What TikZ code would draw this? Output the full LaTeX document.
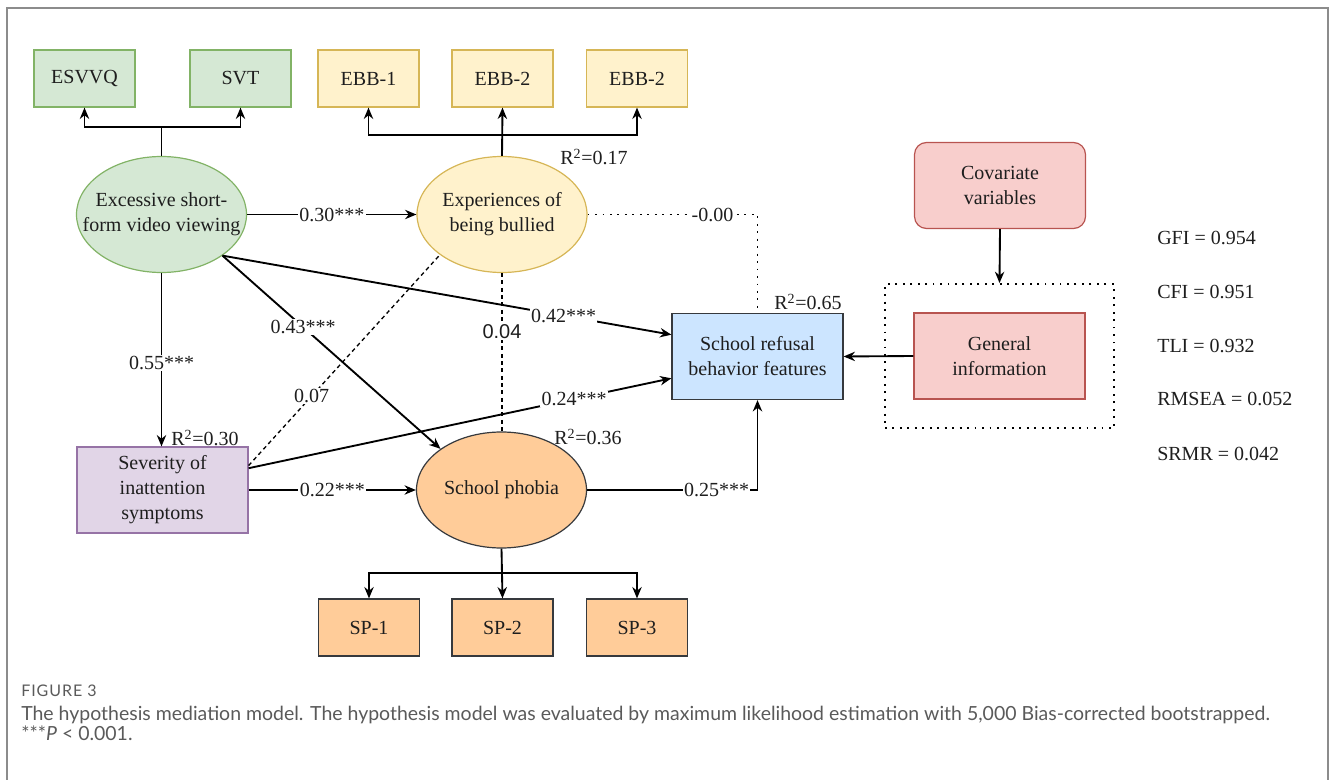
\documentclass[tikz,border=0pt]{standalone}
\usepackage{fontspec}
\setmainfont{Liberation Serif}
\newfontfamily\capfont{Lato}
\newfontfamily\capfontls[LetterSpace=6]{Lato}
\newfontfamily\arialfont{Liberation Sans}
\usetikzlibrary{arrows.meta,shapes.geometric,calc}
\definecolor{gfill}{HTML}{D5E8D4}\definecolor{gdraw}{HTML}{82B366}
\definecolor{yfill}{HTML}{FFF2CC}\definecolor{ydraw}{HTML}{D6B656}
\definecolor{ofill}{HTML}{FFCC99}\definecolor{odraw}{HTML}{36393D}
\definecolor{bfill}{HTML}{CCE5FF}\definecolor{bdraw}{HTML}{36393D}
\definecolor{pfill}{HTML}{E1D5E7}\definecolor{pdraw}{HTML}{9673A6}
\definecolor{rfill}{HTML}{F8CECC}\definecolor{rdraw}{HTML}{B85450}
\definecolor{textc}{HTML}{1E1E1E}
\definecolor{capc}{HTML}{5A5A5A}
\definecolor{framec}{HTML}{8C8C8C}
\begin{document}
\begin{tikzpicture}[x=0.75pt,y=-0.75pt,
  every node/.style={font=\fontsize{15}{18.75}\selectfont, text=textc},
  latent/.style={ellipse, minimum width=127.5pt, minimum height=87pt, inner xsep=-18pt, inner ysep=0pt, align=center, line width=0.9pt},
  smallbox/.style={rectangle, minimum width=75.75pt, minimum height=42.75pt, inner sep=0pt, line width=0.9pt},
  bigbox/.style={rectangle, minimum width=128.25pt, minimum height=64.5pt, inner sep=0pt, align=center, line width=0.9pt},
  arr/.style={-{Stealth[length=8.5pt,width=7pt]}, line width=1.4pt, draw=black},
  plain/.style={line width=1.4pt, draw=black},
  dotline/.style={line width=1.4pt, dash pattern=on 1.4pt off 4.2pt, draw=black},
  dashline/.style={line width=1pt, dash pattern=on 3pt off 2.5pt, draw=black},
  lbl/.style={fill=white, inner sep=1pt},
  captext/.style={font=\capfont\fontsize{14.6}{17}\selectfont, text=capc, anchor=base west, inner sep=0pt}
]
\useasboundingbox (0,0) rectangle (1331,780);
\draw[framec, line width=1.2pt] (7,780) -- (7,8) -- (1328,8) -- (1328,780);

% latent variables
\node[latent, fill=gfill, draw=gdraw] (exc) at (161.5,214.5) {Excessive short-\\form video viewing};
\node[latent, fill=yfill, draw=ydraw] (exp) at (502,214.5) {Experiences of\\being bullied};
\node[latent, fill=ofill, draw=odraw] (sph) at (501.5,490) {School phobia};

% indicators
\node[smallbox, fill=gfill, draw=gdraw] (esv) at (84.5,78.5) {ESVVQ};
\node[smallbox, fill=gfill, draw=gdraw] (svt) at (240.5,78.5) {SVT};
\node[smallbox, fill=yfill, draw=ydraw] (eb1) at (368.5,78.5) {EBB-1};
\node[smallbox, fill=yfill, draw=ydraw] (eb2) at (502.5,78.5) {EBB-2};
\node[smallbox, fill=yfill, draw=ydraw] (eb3) at (637,78.5) {EBB-2};
\node[smallbox, fill=ofill, draw=odraw] (sp1) at (369,627.5) {SP-1};
\node[smallbox, fill=ofill, draw=odraw] (sp2) at (502.5,627.5) {SP-2};
\node[smallbox, fill=ofill, draw=odraw] (sp3) at (637,627.5) {SP-3};

% observed boxes
\node[bigbox, fill=pfill, draw=pdraw] (sev) at (162.5,490) {Severity of\\inattention\\symptoms};
\node[bigbox, fill=bfill, draw=bdraw] (ref) at (757.5,356.5) {School refusal\\behavior features};
\node[bigbox, fill=rfill, draw=rdraw] (gen) at (999.5,356) {General\\information};
\node[bigbox, fill=rfill, draw=rdraw, rounded corners=9pt] (cov) at (1000,185.5) {Covariate\\variables};
\node[rectangle, draw=black, dotline, minimum width=171.75pt, minimum height=108pt, inner sep=0pt] (dbox) at (999.5,356) {};

% measurement branches
\coordinate (b1) at ($(exc.north)+(0,-29)$);
\draw[plain] (exc.north) -- (b1);
\draw[arr] (b1) -- (b1 -| esv.south) -- (esv.south);
\draw[arr] (b1) -- (b1 -| svt.south) -- (svt.south);
\coordinate (b2) at ($(exp.north)+(0,-21)$);
\draw[arr] (exp.north) -- (eb2.south);
\draw[arr] (b2) -- (b2 -| eb1.south) -- (eb1.south);
\draw[arr] (b2) -- (b2 -| eb3.south) -- (eb3.south);
\coordinate (b3) at ($(sph.south)+(0,24)$);
\draw[arr] (sph.south) -- (sp2.north);
\draw[arr] (b3) -- (b3 -| sp1.north) -- (sp1.north);
\draw[arr] (b3) -- (b3 -| sp3.north) -- (sp3.north);

% structural paths
\draw[arr] (exc.east) -- node[lbl]{0.30***} (exp.west);
\coordinate (c1) at (ref.north |- exp.east);
\draw[dotline] (exp.east) -- node[lbl, pos=0.735]{-0.00} (c1) -- (ref.north);
\coordinate (e1) at (exc.-34);
\draw[arr] (e1) -- node[lbl, pos=0.76]{0.42***} ($(ref.north west)!0.25!(ref.south west)$);
\draw[arr] (e1) -- node[lbl, pos=0.37]{0.43***} (sph.146);
\draw[arr] (exc.south) -- node[lbl, pos=0.52]{0.55***} (exc.south |- sev.north);
\coordinate (s1) at ($(sev.north east)!0.22!(sev.south east)$);
\draw[dashline] (s1) -- node[lbl, pos=0.33]{0.07} (exp.213);
\draw[arr] ($(sev.north east)!0.25!(sev.south east)$) -- node[lbl, pos=0.77]{0.24***} ($(ref.north west)!0.75!(ref.south west)$);
\draw[dashline] (exp.south) -- node[lbl, pos=0.37, font=\arialfont\fontsize{15}{18}\selectfont]{0.04} (exp.south |- sph.north);
\draw[arr] (sev.east) -- node[lbl]{0.22***} (sph.west);
\coordinate (c2) at (ref.south |- sph.east);
\draw[arr] (sph.east) -- node[lbl, pos=0.76]{0.25***} (c2) -- (ref.south);
\draw[arr] (gen.west) -- (ref.east);
\draw[arr] (cov.south) -- (dbox.north);

% R squared
\node (r1) at (594,157) {R\textsuperscript{2}=0.17};
\node (r2) at (808,302) {R\textsuperscript{2}=0.65};
\node (r3) at (205,438) {R\textsuperscript{2}=0.30};
\node (r4) at (588,437) {R\textsuperscript{2}=0.36};

% fit indices
\node[anchor=west, inner sep=0pt] (f1) at (1157,238) {GFI = 0.954};
\node[anchor=west, inner sep=0pt] (f2) at (1157,292) {CFI = 0.951};
\node[anchor=west, inner sep=0pt] (f3) at (1157,346) {TLI = 0.932};
\node[anchor=west, inner sep=0pt] (f4) at (1157,399) {RMSEA = 0.052};
\node[anchor=west, inner sep=0pt] (f5) at (1157,454) {SRMR = 0.042};

% caption
\node[captext, font=\capfontls\fontsize{12}{14}\selectfont] (cap0) at (21,696) {FIGURE 3};
\node[captext] (cap1) at (21,720) {The hypothesis mediation model. The hypothesis model was evaluated by maximum likelihood estimation with 5,000 Bias-corrected bootstrapped.};
\node[captext] (cap2) at (21,740) {***\textit{P} < 0.001.};
\end{tikzpicture}
\end{document}
